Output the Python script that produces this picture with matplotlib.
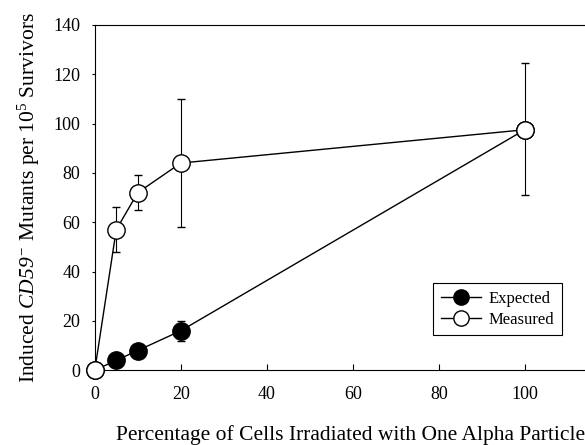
import matplotlib
matplotlib.use("Agg")
import matplotlib.pyplot as plt

# Data
pct = [0, 5, 10, 20, 100]
expected = [0, 4, 8, 16, 97.5]
expected_lo = [0, 0, 0, 4, 0]
expected_hi = [0, 0, 0, 4, 0]
measured = [0, 57, 72, 84, 97.5]
measured_lo = [0, 9, 7, 26, 26.5]
measured_hi = [0, 9, 7, 26, 27]

plt.rcParams['font.family'] = ['Liberation Serif']
# math digits and letters italic (for CD59), \mathsf used for upright 5
plt.rcParams['mathtext.fontset'] = 'custom'
plt.rcParams['mathtext.rm'] = 'Liberation Serif:italic'
plt.rcParams['mathtext.it'] = 'Liberation Serif:italic'
plt.rcParams['mathtext.sf'] = 'Liberation Serif'

fig = plt.figure(figsize=(5.85, 4.45), dpi=100)
ax = fig.add_axes([0.162, 0.168, 0.838, 0.776])

ax.errorbar(pct, expected, yerr=[expected_lo, expected_hi], color='black',
            marker='o', markersize=12.5, markerfacecolor='black',
            markeredgecolor='black', linewidth=1, elinewidth=0.8,
            capsize=3, label='Expected', clip_on=False, zorder=3)
ax.errorbar(pct, measured, yerr=[measured_lo, measured_hi], color='black',
            marker='o', markersize=12.5, markerfacecolor='white',
            markeredgecolor='black', linewidth=1, elinewidth=0.8,
            capsize=3, label='Measured', clip_on=False, zorder=4)

ax.set_xlim(0, 114)
ax.set_ylim(0, 140)
ax.set_xticks([0, 20, 40, 60, 80, 100])
ax.set_yticks(range(0, 141, 20))
ax.tick_params(labelsize=13, width=0.8)
ax.tick_params(axis='y', direction='out', length=2.5, pad=8)
ax.tick_params(axis='x', direction='in', length=4, pad=11)
ax.spines['right'].set_visible(False)

ax.set_xlabel('Percentage of Cells Irradiated with One Alpha Particle',
              fontsize=15.5, labelpad=16, loc='right')
ax.set_ylabel(r'Induced $CD59^{-}$ Mutants per 10$^{\mathsf{5}}$ Survivors',
              fontsize=15.5, labelpad=8)

handles, labels = ax.get_legend_handles_labels()
handles = [h[0] for h in handles]
leg = ax.legend(handles, labels, loc='lower right',
                bbox_to_anchor=(0.953, 0.101), borderaxespad=0,
                fontsize=12, fancybox=False,
                edgecolor='black', framealpha=1, handlelength=2.4,
                handletextpad=0.5, borderpad=0.45, labelspacing=0.3)
leg.get_frame().set_linewidth(0.8)
for h in leg.legend_handles:
    h.set_markersize(11)

fig.savefig('out.png', dpi=100)
